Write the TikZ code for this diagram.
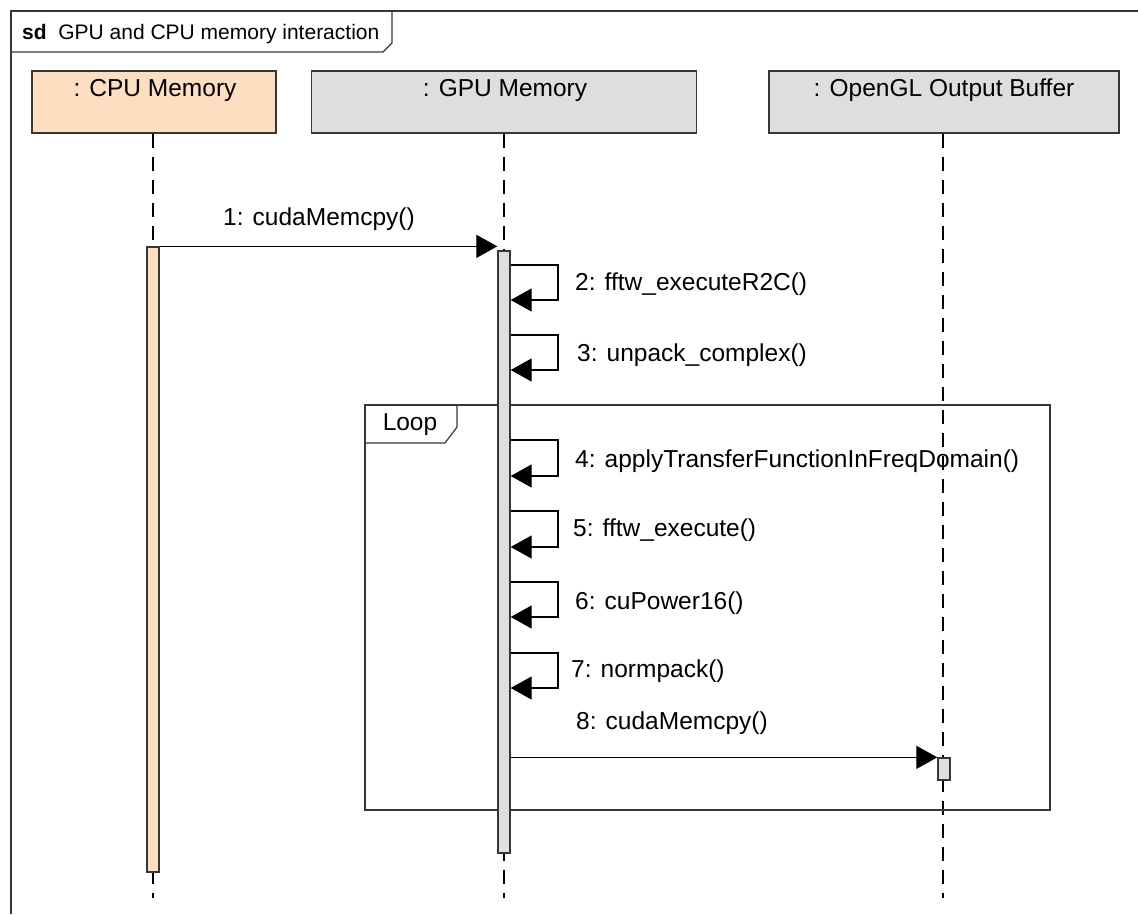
\documentclass[tikz,border=0pt]{standalone}
\usepackage{fontspec}
\setmainfont{Liberation Sans}
\usetikzlibrary{arrows.meta}
\definecolor{cpufill}{RGB}{253,222,192}
\definecolor{gpufill}{RGB}{222,222,222}
\definecolor{edgegray}{RGB}{55,55,55}
\newcommand{\bigfont}{\fontsize{24.5}{28}\selectfont}
\newcommand{\titlefont}{\fontsize{21}{25}\selectfont}
\tikzset{
  headbox/.style={draw=edgegray, line width=1.3pt, minimum height=62pt, inner sep=0pt},
  headtext/.style={font=\bigfont, inner sep=0pt},
  lifeline/.style={line width=1.3pt, dash pattern=on 14pt off 9pt},
  actbar/.style={draw=edgegray, line width=1.3pt, minimum width=12pt, inner sep=0pt},
  msg/.style={line width=1.2pt, -{Triangle[length=21pt, width=23pt]}},
  msglabel/.style={font=\bigfont, inner sep=0pt},
  frameline/.style={line width=1.2pt, draw=edgegray}
}

\begin{document}
\begin{tikzpicture}[x=1pt, y=-1pt]
\useasboundingbox (0,0) rectangle (1138,914);
\draw[frameline] (11,914) -- (11,11) -- (1138,11);
\draw[frameline] (11,52) -- (383,52) -- (392,43) -- (392,11);
\node[anchor=west, font=\titlefont, inner sep=0pt] (title) at (22,34) {\textbf{sd}\ \ GPU and CPU memory interaction};

\node[headbox, fill=cpufill, minimum width=244pt] (cpu) at (154,102) {};
\node[headbox, fill=gpufill, minimum width=385pt] (gpu) at (504,102) {};
\node[headbox, fill=gpufill, minimum width=350pt] (gl) at (944,102) {};
\node[headtext] at (155,90) {: CPU Memory};
\node[headtext] at (505,90) {: GPU Memory};
\node[headtext] at (944,90) {: OpenGL Output Buffer};

\coordinate (cpuend) at (153,898);
\coordinate (gpuend) at (504,898);
\coordinate (glend) at (943,898);
\draw[lifeline] (cpu.south -| cpuend) -- (cpuend);
\draw[lifeline] (gpu.south -| gpuend) -- (gpuend);
\draw[lifeline] (gl.south -| glend) -- (glend);

\draw[frameline] (365,405) rectangle (1050,810);
\draw[frameline] (365,443) -- (445,443) -- (457,427) -- (457,405);
\node[headtext] (loop) at (410,425) {Loop};

\node[actbar, fill=cpufill, minimum height=625pt] (cpuact) at (153,559.5) {};
\node[actbar, fill=gpufill, minimum height=602pt] (gpuact) at (504,552) {};
\node[actbar, fill=gpufill, minimum height=22pt] (glact) at (944,769) {};

\draw[msg] (cpuact.north east) -- (cpuact.north east -| gpuact.west);
\node[msglabel] at (319,219) {1: cudaMemcpy()};

\draw[msg] (gpuact.east |- 0,265) -- (558,265) -- (558,300) -- (gpuact.east |- 0,300);
\node[msglabel, anchor=west] at (575,284) {2: fftw\_executeR2C()};
\draw[msg] (gpuact.east |- 0,335) -- (558,335) -- (558,370) -- (gpuact.east |- 0,370);
\node[msglabel, anchor=west] at (577,355) {3: unpack\_complex()};
\draw[msg] (gpuact.east |- 0,440) -- (558,440) -- (558,476) -- (gpuact.east |- 0,476);
\node[msglabel, anchor=west] at (575,461) {4: applyTransferFunctionInFreqDomain()};
\draw[msg] (gpuact.east |- 0,511) -- (558,511) -- (558,547) -- (gpuact.east |- 0,547);
\node[msglabel, anchor=west] at (573,530) {5: fftw\_execute()};
\draw[msg] (gpuact.east |- 0,582) -- (558,582) -- (558,617) -- (gpuact.east |- 0,617);
\node[msglabel, anchor=west] at (575,603) {6: cuPower16()};
\draw[msg] (gpuact.east |- 0,653) -- (558,653) -- (558,688) -- (gpuact.east |- 0,688);
\node[msglabel, anchor=west] at (571,671) {7: normpack()};

\draw[msg] (gpuact.east |- glact.north) -- (glact.north west);
\node[msglabel] at (672,723) {8: cudaMemcpy()};
\end{tikzpicture}
\end{document}
